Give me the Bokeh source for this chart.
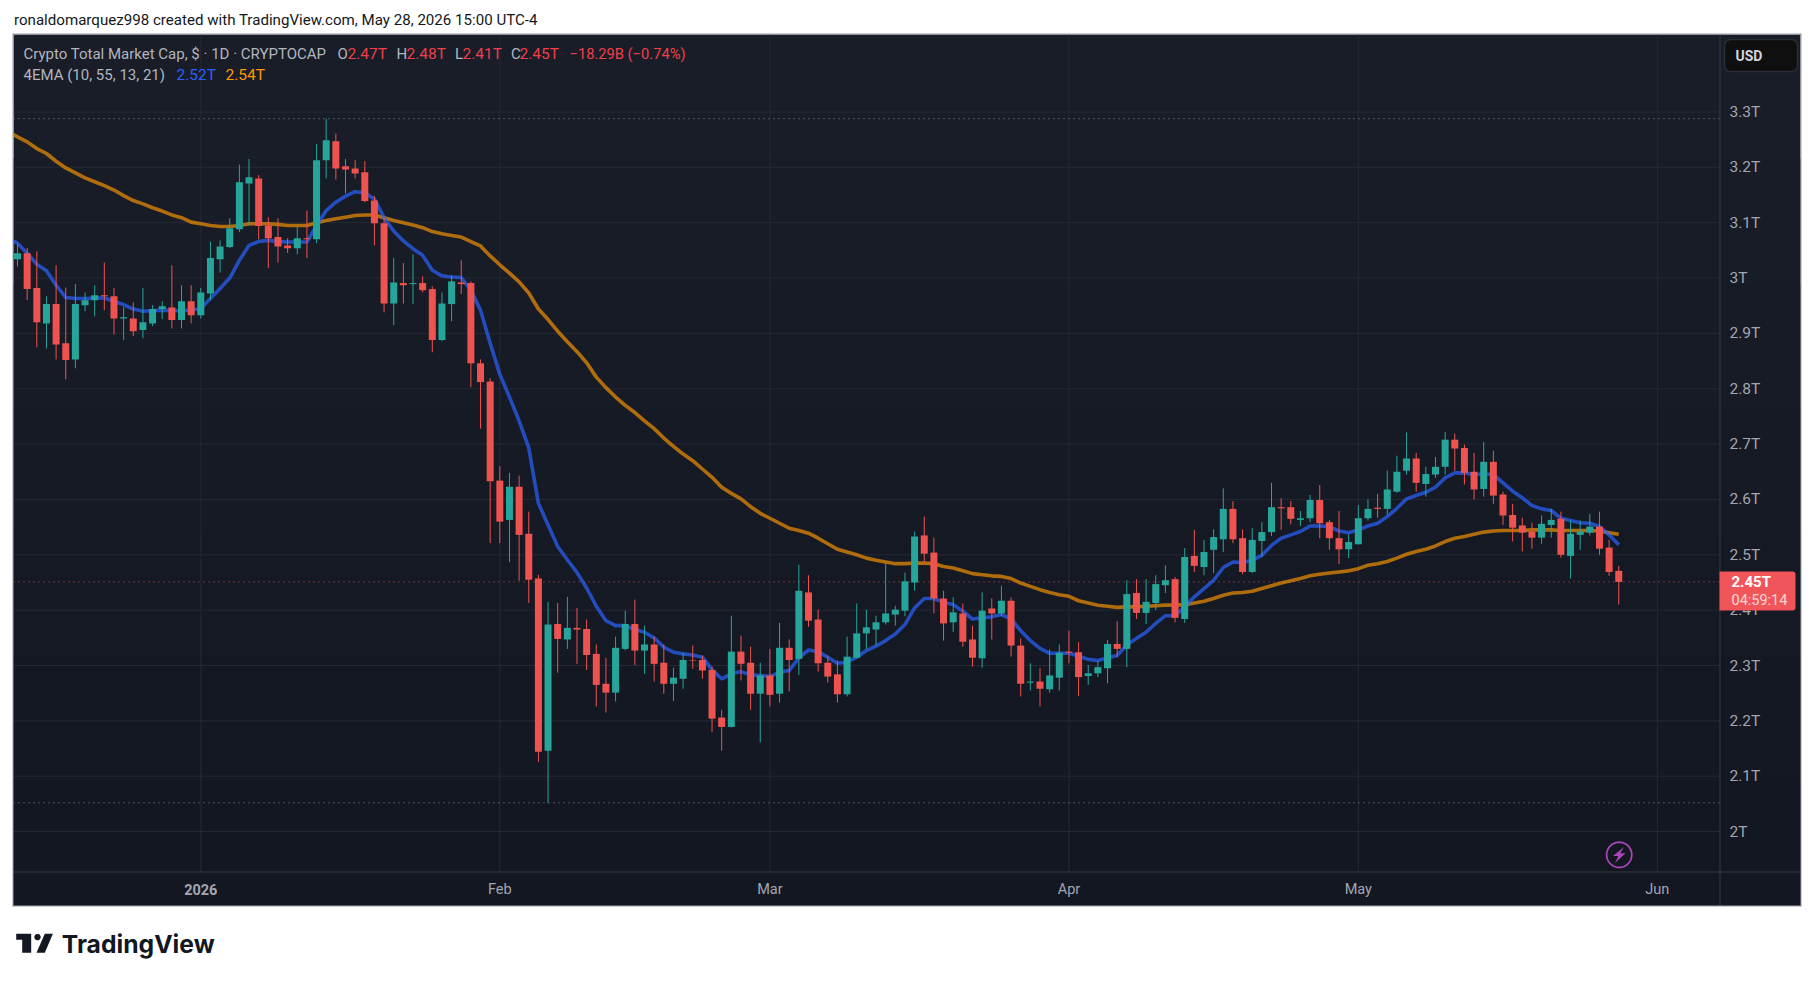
import numpy as np
import pandas as pd
from bokeh.embed import file_html
from bokeh.models import (BoxAnnotation, ColumnDataSource, FixedTicker, Label,
                          PolyAnnotation, Range1d)
from bokeh.plotting import figure
from bokeh.resources import INLINE

# ---------- data (values in trillions of USD, one daily candle each) ----------
first_date = "2025-12-13"
opens = [3.034,3.045,2.982,2.918,2.953,2.882,2.853,2.951,2.960,2.969,
2.967,2.927,2.927,2.906,2.918,2.944,2.947,2.924,2.958,2.933,
2.972,3.034,3.056,3.088,3.171,3.180,3.095,3.074,3.059,3.054,
3.072,3.070,3.213,3.247,3.202,3.198,3.191,3.140,3.099,2.954,
2.991,2.989,2.991,2.980,2.888,2.953,2.992,2.991,2.846,2.813,
2.634,2.563,2.623,2.538,2.457,2.146,2.375,2.347,2.368,2.366,
2.321,2.267,2.251,2.330,2.375,2.327,2.338,2.305,2.267,2.276,
2.310,2.310,2.292,2.206,2.189,2.325,2.305,2.249,2.282,2.249,
2.332,2.312,2.432,2.383,2.305,2.284,2.248,2.314,2.358,2.365,
2.378,2.392,2.399,2.450,2.535,2.504,2.421,2.378,2.394,2.347,
2.313,2.403,2.394,2.417,2.336,2.269,2.271,2.257,2.278,2.325,
2.324,2.281,2.286,2.295,2.339,2.330,2.431,2.395,2.413,2.445,
2.456,2.384,2.498,2.478,2.509,2.528,2.583,2.530,2.469,2.525,
2.541,2.586,2.586,2.563,2.566,2.599,2.559,2.530,2.510,2.519,
2.566,2.585,2.583,2.614,2.652,2.674,2.628,2.645,2.659,2.708,
2.693,2.650,2.619,2.668,2.609,2.572,2.553,2.542,2.531,2.554,
2.565,2.498,2.536,2.540,2.551,2.513,2.471]
highs = [3.061,3.054,3.048,2.967,3.023,2.983,2.989,2.974,2.987,3.028,
2.982,2.947,2.956,2.982,2.951,2.958,3.023,2.987,2.987,2.982,
3.066,3.068,3.108,3.205,3.215,3.186,3.110,3.108,3.072,3.092,
3.122,3.242,3.288,3.261,3.215,3.213,3.211,3.148,3.110,3.036,
3.027,3.043,3.003,2.985,2.974,3.005,3.032,2.994,2.853,2.819,
2.660,2.648,2.643,2.578,2.464,2.415,2.413,2.424,2.404,2.383,
2.338,2.314,2.352,2.399,2.419,2.372,2.352,2.338,2.296,2.323,
2.336,2.318,2.298,2.220,2.390,2.354,2.334,2.305,2.330,2.377,
2.347,2.482,2.463,2.401,2.318,2.309,2.352,2.412,2.401,2.390,
2.484,2.408,2.468,2.542,2.569,2.531,2.435,2.423,2.412,2.372,
2.432,2.421,2.444,2.423,2.349,2.304,2.295,2.329,2.338,2.363,
2.342,2.301,2.308,2.346,2.380,2.454,2.456,2.456,2.463,2.481,
2.460,2.512,2.545,2.527,2.546,2.620,2.597,2.546,2.548,2.559,
2.630,2.602,2.597,2.579,2.608,2.626,2.563,2.579,2.537,2.590,
2.600,2.610,2.652,2.679,2.721,2.684,2.659,2.677,2.722,2.719,
2.699,2.684,2.704,2.688,2.614,2.592,2.567,2.558,2.571,2.583,
2.578,2.562,2.562,2.574,2.578,2.527,2.480]
lows = [3.021,2.960,2.875,2.873,2.853,2.817,2.837,2.940,2.931,2.942,
2.898,2.888,2.895,2.891,2.913,2.926,2.909,2.909,2.918,2.927,
2.960,3.010,3.054,3.083,3.095,3.070,3.018,3.028,3.045,3.043,
3.036,3.063,3.180,3.178,3.153,3.180,3.137,3.059,2.938,2.915,
2.954,2.953,2.974,2.866,2.886,2.922,2.971,2.803,2.728,2.521,
2.521,2.487,2.453,2.413,2.126,2.052,2.287,2.330,2.303,2.292,
2.226,2.215,2.235,2.327,2.301,2.285,2.271,2.249,2.236,2.258,
2.294,2.276,2.180,2.146,2.188,2.273,2.220,2.161,2.226,2.233,
2.253,2.283,2.370,2.289,2.269,2.233,2.244,2.313,2.329,2.336,
2.374,2.372,2.389,2.435,2.484,2.394,2.345,2.361,2.334,2.298,
2.296,2.347,2.389,2.316,2.244,2.255,2.226,2.251,2.255,2.304,
2.245,2.265,2.279,2.268,2.315,2.297,2.384,2.375,2.400,2.431,
2.378,2.377,2.469,2.463,2.467,2.505,2.521,2.465,2.467,2.496,
2.534,2.545,2.555,2.552,2.559,2.530,2.509,2.483,2.494,2.519,
2.562,2.567,2.572,2.612,2.645,2.614,2.605,2.639,2.645,2.652,
2.627,2.600,2.605,2.592,2.554,2.524,2.506,2.511,2.520,2.531,
2.495,2.457,2.509,2.535,2.500,2.462,2.410]
closes = [3.045,2.980,2.920,2.953,2.880,2.852,2.953,2.960,2.969,2.967,
2.927,2.929,2.904,2.920,2.944,2.949,2.924,2.958,2.933,2.974,
3.036,3.057,3.090,3.173,3.182,3.094,3.072,3.057,3.054,3.072,
3.070,3.213,3.249,3.198,3.196,3.189,3.139,3.099,2.954,2.992,
2.987,2.991,2.978,2.888,2.954,2.994,2.989,2.846,2.812,2.633,
2.560,2.623,2.536,2.455,2.144,2.374,2.348,2.368,2.365,2.319,
2.265,2.251,2.332,2.375,2.327,2.338,2.303,2.267,2.278,2.310,
2.309,2.291,2.204,2.189,2.325,2.303,2.249,2.282,2.247,2.332,
2.310,2.435,2.381,2.304,2.280,2.248,2.316,2.358,2.369,2.378,
2.394,2.401,2.452,2.533,2.502,2.421,2.376,2.396,2.343,2.314,
2.399,2.394,2.417,2.336,2.267,2.271,2.258,2.282,2.323,2.323,
2.279,2.286,2.297,2.339,2.330,2.429,2.395,2.415,2.447,2.454,
2.386,2.496,2.480,2.505,2.532,2.583,2.528,2.469,2.527,2.541,
2.586,2.584,2.565,2.566,2.599,2.557,2.530,2.510,2.523,2.566,
2.583,2.583,2.618,2.650,2.674,2.630,2.646,2.659,2.708,2.692,
2.648,2.618,2.668,2.607,2.571,2.549,2.540,2.531,2.556,2.563,
2.500,2.538,2.542,2.551,2.511,2.469,2.451]
# the EMA lines start where they leave the left edge of the pane
ema_edge_date = "2025-12-12 14:00"
ema_blue_edge = 3.067
ema_orange_edge = 3.259
ema_blue = [3.063,3.045,3.025,3.013,2.987,2.965,2.963,2.963,2.964,2.964,
2.958,2.952,2.944,2.940,2.941,2.942,2.941,2.941,2.942,2.945,
2.963,2.981,3.000,3.032,3.059,3.066,3.068,3.066,3.065,3.065,
3.065,3.095,3.122,3.137,3.148,3.156,3.154,3.143,3.109,3.085,
3.067,3.053,3.041,3.014,3.004,3.002,3.001,2.978,2.942,2.882,
2.826,2.785,2.742,2.693,2.593,2.554,2.515,2.491,2.468,2.440,
2.407,2.381,2.372,2.372,2.365,2.360,2.350,2.333,2.324,2.321,
2.319,2.315,2.292,2.276,2.285,2.289,2.283,2.282,2.280,2.288,
2.291,2.314,2.328,2.325,2.315,2.304,2.306,2.315,2.327,2.335,
2.345,2.357,2.374,2.404,2.421,2.421,2.414,2.410,2.398,2.384,
2.386,2.388,2.392,2.384,2.363,2.345,2.331,2.322,2.322,2.322,
2.317,2.311,2.309,2.314,2.318,2.337,2.349,2.360,2.376,2.390,
2.390,2.406,2.424,2.439,2.454,2.477,2.487,2.486,2.490,2.499,
2.517,2.530,2.536,2.542,2.552,2.552,2.551,2.543,2.540,2.545,
2.552,2.557,2.569,2.584,2.601,2.607,2.613,2.622,2.639,2.648,
2.648,2.645,2.646,2.645,2.630,2.615,2.603,2.589,2.583,2.580,
2.566,2.562,2.558,2.557,2.551,2.536,2.518]
ema_orange = [3.255,3.246,3.234,3.225,3.211,3.199,3.190,3.181,3.174,3.167,
3.159,3.149,3.140,3.134,3.127,3.121,3.114,3.109,3.101,3.098,
3.095,3.093,3.093,3.095,3.098,3.098,3.098,3.097,3.095,3.095,
3.095,3.100,3.104,3.107,3.110,3.113,3.114,3.114,3.109,3.104,
3.100,3.096,3.091,3.084,3.080,3.077,3.074,3.066,3.058,3.040,
3.024,3.009,2.993,2.973,2.944,2.925,2.904,2.885,2.867,2.847,
2.821,2.802,2.785,2.770,2.757,2.742,2.728,2.711,2.696,2.682,
2.670,2.655,2.640,2.622,2.611,2.601,2.587,2.575,2.566,2.557,
2.548,2.544,2.539,2.530,2.520,2.510,2.505,2.500,2.494,2.490,
2.487,2.484,2.484,2.485,2.485,2.484,2.479,2.476,2.471,2.466,
2.464,2.462,2.461,2.457,2.449,2.443,2.437,2.432,2.428,2.425,
2.417,2.413,2.409,2.407,2.405,2.406,2.406,2.407,2.408,2.409,
2.409,2.410,2.413,2.416,2.421,2.427,2.431,2.432,2.434,2.439,
2.444,2.449,2.453,2.457,2.462,2.465,2.467,2.469,2.471,2.475,
2.481,2.484,2.488,2.494,2.501,2.506,2.510,2.516,2.524,2.530,
2.533,2.537,2.541,2.543,2.544,2.544,2.544,2.545,2.545,2.545,
2.544,2.544,2.544,2.544,2.543,2.540,2.537]
range_high = 3.288
range_low = 2.052
price_ticks = [2.0,2.1,2.2,2.3,2.4,2.5,2.6,2.7,2.8,2.9,3.0,3.1,3.2,3.3]
price_labels = ["2T","2.1T","2.2T","2.3T","2.4T","2.5T","2.6T","2.7T","2.8T","2.9T","3T","3.1T","3.2T","3.3T"]
month_ticks = ["2026-01-01","2026-02-01","2026-03-01","2026-04-01","2026-05-01","2026-06-01"]
month_labels = ["","Feb","Mar","Apr","May","Jun"]

# ---------- geometry of the page (pixel positions of the chart furniture) ----------
FL, FR, FT, FB = 13, 1719, 34, 871     # price pane
OR, OB = 1800, 905                     # outer chart box
W, H = 1810, 975
PX_DAY = 9.646
PX_T = 553.5
MS_DAY = 86400000.0
def sx(X): return X
def sy(Y): return H - Y

jan1_ms = pd.Timestamp("2026-01-01").value / 1e6
def to_ms(d): return pd.Timestamp(d).value / 1e6
def data_x(X): return jan1_ms + (X - 200.3) / PX_DAY * MS_DAY
def data_y(Y): return 3.3 - (Y - 111.5) / PX_T

p = figure(width=W, height=H, x_axis_type="datetime", y_axis_location="right",
           x_range=Range1d(data_x(0), data_x(W)), y_range=Range1d(data_y(H), data_y(0)),
           toolbar_location=None, output_backend="svg",
           min_border_left=0, min_border_top=0, min_border_right=0, min_border_bottom=0)
p.border_fill_color = "#ffffff"
p.background_fill_color = "#ffffff"
p.outline_line_color = None
p.grid.visible = False

def box(L, R, T, Bt, **kw):
    b = BoxAnnotation(left=sx(L), right=sx(R), top=sy(T), bottom=sy(Bt),
                      left_units="screen", right_units="screen",
                      top_units="screen", bottom_units="screen", **kw)
    p.add_layout(b)
    return b

# vertical gradient of the chart background (one flat band per colour step)
top_rgb = np.array([25, 29, 40]); bot_rgb = np.array([19, 23, 34])
n_bands = 7
edges = np.linspace(FT, OB, n_bands + 1).round().astype(int)
for i in range(n_bands):
    c = top_rgb + (bot_rgb - top_rgb) * i / (n_bands - 1)
    hexc = "#%02x%02x%02x" % tuple(int(round(v)) for v in c)
    # every band runs on to the bottom, the next one is painted over it
    box(FL, OR, int(edges[i]), OB, fill_color=hexc, fill_alpha=1,
        line_alpha=0, level="image")

# axes inside the one big frame
tick_ms = [to_ms(d) for d in month_ticks]
xa = p.xaxis[0]
xa.fixed_location = data_y(FB)
xa.ticker = FixedTicker(ticks=tick_ms)
xa.major_label_overrides = {t: l for t, l in zip(tick_ms, month_labels)}
ya = p.yaxis[0]
ya.fixed_location = data_x(FR)
ya.ticker = FixedTicker(ticks=price_ticks)
ya.major_label_overrides = {t: l for t, l in zip(price_ticks, price_labels)}
for a in (xa, ya):
    a.major_tick_line_color = None
    a.minor_tick_line_color = None
    a.major_tick_out = 0
    a.major_tick_in = 0
    a.axis_line_color = None
    a.major_label_text_color = "#a3a6af"
    a.major_label_text_font = "Roboto"
xa.major_label_text_font_size = "14.5px"
ya.major_label_text_font_size = "15.5px"
xa.major_label_standoff = 9
ya.major_label_standoff = 10

# grid lines, drawn through the scales and kept inside the pane
GRID = "#252933"
p.segment(x0=tick_ms, x1=tick_ms, y0=[data_y(FB)] * len(tick_ms), y1=[data_y(FT)] * len(tick_ms),
          line_color=GRID, line_width=1, level="underlay")
p.segment(x0=[data_x(FL)] * len(price_ticks), x1=[data_x(FR)] * len(price_ticks),
          y0=price_ticks, y1=price_ticks, line_color=GRID, line_width=1, level="underlay")

# horizontal dotted markers
for loc, col, al in ((range_high, "#8a8d96", 1), (range_low, "#8a8d96", 1), (closes[-1], "#ef5350", 0.85)):
    p.segment(x0=[data_x(FL)], x1=[data_x(FR)], y0=[loc], y1=[loc], line_color=col, line_alpha=al,
              line_dash="1 4", line_width=1, level="underlay")

# EMA lines (behind the candles)
dates = pd.date_range(first_date, periods=len(opens), freq="D")
ema_x = [pd.Timestamp(ema_edge_date)] + list(dates)
p.line(ema_x, [ema_orange_edge] + ema_orange, line_color="#ff9800", line_alpha=0.66, line_width=3.6, line_join="round")
p.line(ema_x, [ema_blue_edge] + ema_blue, line_color="#2962ff", line_alpha=0.7, line_width=3.6, line_join="round")

# candles
GREEN, RED = "#26a69a", "#ef5350"
colors = [GREEN if c >= o else RED for o, c in zip(opens, closes)]
src = ColumnDataSource(dict(x=dates, o=opens, h=highs, l=lows, c=closes, color=colors))
p.segment("x", "h", "x", "l", source=src, line_color="color", line_width=1)
p.vbar("x", width=7 / PX_DAY * MS_DAY, top="o", bottom="c", source=src,
       fill_color="color", line_color="color", line_width=0.01)

# separators and outline
box(FR, FR + 1, FT, OB, fill_color="#363a45", fill_alpha=1, line_alpha=0, level="guide")
box(FL, OR, FB, FB + 1, fill_color="#363a45", fill_alpha=1, line_alpha=0, level="guide")
box(FL - 1, OR + 1, FT - 1, FT, fill_color="#9a9da5", fill_alpha=1, line_alpha=0, level="guide")
box(FL - 1, OR + 1, OB, OB + 1, fill_color="#9a9da5", fill_alpha=1, line_alpha=0, level="guide")
box(FL - 1, FL, FT - 1, OB + 1, fill_color="#9a9da5", fill_alpha=1, line_alpha=0, level="guide")
box(OR, OR + 1, FT - 1, OB + 1, fill_color="#9a9da5", fill_alpha=1, line_alpha=0, level="guide")

def label(text, X, Y, color, size=15, font="Roboto", style="normal", align="left", level="overlay"):
    p.add_layout(Label(x=sx(X), y=sy(Y), x_units="screen", y_units="screen", text=text,
                       text_color=color, text_font=font, text_font_size=f"{size}px",
                       text_font_style=style, text_align=align, text_baseline="middle",
                       level=level))

# page heading
label("ronaldomarquez998 created with TradingView.com, May 28, 2026 15:00 UTC-4", 13.5, 19, "#131722", size=15.1)
# legend lines
G, R_ = "#b2b5be", "#f23d4a"
label("Crypto Total Market Cap, $ · 1D · CRYPTOCAP", 23, 53, G)
label("O", 337, 53, G); label("2.47T", 347, 53, R_, size=15.5)
label("H", 396, 53, G); label("2.48T", 406, 53, R_, size=15.5)
label("L", 454.5, 53, G); label("2.41T", 462, 53, R_, size=15.5)
label("C", 510.5, 53, G); label("2.45T", 519, 53, R_, size=15.5)
label("−18.29B (−0.74%)", 569, 53, R_, size=14.7)
label("4EMA (10, 55, 13, 21)", 23, 74.5, G)
label("2.52T", 176, 74.5, "#2962ff", size=15.5); label("2.54T", 225, 74.5, "#ff9800", size=15.5)

# bold year tick
label("2026", 200.3, 888.5, "#a3a6af", size=14.5, style="bold", align="center")

# USD button
box(1724, 1797, 39, 71, fill_color="#0f0f0f", fill_alpha=1, line_color="#2a2e39", line_alpha=1,
    line_width=1.5, border_radius=6, level="annotation")
label("USD", 1735, 55, "#d1d4dc", style="bold", size=14)

# price tag
box(1719, 1795, 571, 610, fill_color="#f0555a", fill_alpha=1, line_alpha=0,
    border_radius=(0, 3, 3, 0), level="annotation")
label("2.45T", 1731, 581.5, "#ffffff", style="bold", size=15)
label("04:59:14", 1731, 600, "#fbd5d3", size=14.5)

# lightning badge
theta = np.linspace(0, 2 * np.pi, 49)
cx, cy, r = 1618.7, 854.3, 12.6
poly = lambda xs, ys, **kw: p.add_layout(PolyAnnotation(
    xs=[sx(v) for v in xs], ys=[sy(v) for v in ys],
    xs_units="screen", ys_units="screen", **kw))
poly(cx + r * np.cos(theta), cy + r * np.sin(theta), fill_alpha=0,
     line_color="#ab47bc", line_alpha=1, line_width=1.7, level="annotation")
poly([1623.5, 1612.5, 1617.8, 1614.5, 1625, 1619.8],
     [846.5, 855.5, 855.5, 862.5, 852.8, 852.8],
     fill_color="#ab47bc", fill_alpha=1, line_alpha=0, level="annotation")

# TradingView logo
INK = "#131722"
poly([15.7, 30.7, 30.7, 21.7, 21.7, 15.7], [933.3, 933.3, 952.3, 952.3, 939.3, 939.3],
     fill_color=INK, fill_alpha=1, line_alpha=0, level="annotation")
poly(37 + 3.2 * np.cos(theta), 936.6 + 3.2 * np.sin(theta),
     fill_color=INK, fill_alpha=1, line_alpha=0, level="annotation")
poly([44.3, 52.4, 44.3, 36], [933.3, 933.3, 952.3, 952.3],
     fill_color=INK, fill_alpha=1, line_alpha=0, level="annotation")
label("TradingView", 61.3, 943, INK, size=24.7, font="Inter", style="bold")

open("out.html", "w").write(file_html(p, INLINE))
